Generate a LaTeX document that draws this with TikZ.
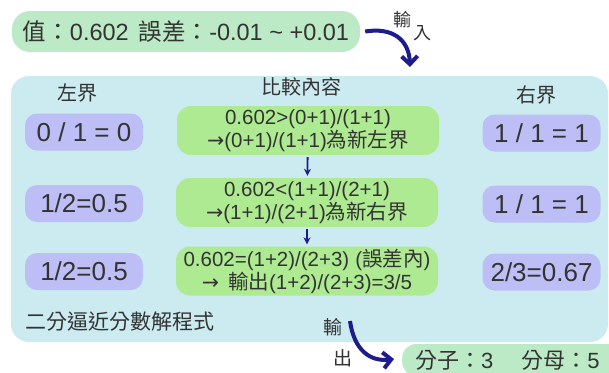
\documentclass[tikz,border=0pt]{standalone}
\usepackage{fontspec}
\setmainfont{Liberation Sans}
\newfontfamily\cjk{Noto Sans CJK TC}
\newfontfamily\symf{DejaVu Sans}
\usetikzlibrary{arrows.meta}
\newcommand\C[1]{{\cjk #1}}
\newcommand\ra{{\symf →}}
\definecolor{topgreen}{HTML}{BCEAC6}
\definecolor{midgreen}{HTML}{AEEA92}
\definecolor{lav}{HTML}{BEBEF6}
\definecolor{bgblue}{HTML}{CBEBF1}
\definecolor{txt}{HTML}{333333}
\definecolor{navy}{HTML}{1C1C8C}
\tikzset{
  every node/.style={text=txt, inner sep=0pt},
  panelbox/.style={fill=bgblue, rounded corners=18pt, minimum width=597pt, minimum height=266pt},
  valbox/.style={fill=topgreen, rounded corners=18pt, minimum width=348pt, minimum height=41pt, font=\fontsize{23.5}{27}\selectfont},
  outbox/.style={fill=topgreen, rounded corners=14pt, minimum width=240pt, minimum height=32pt, text width=214pt, inner xsep=13pt, align=left, font=\fontsize{22}{25}\selectfont},
  lbox/.style={fill=lav, rounded corners=12pt, minimum width=118pt, minimum height=37pt, font=\fontsize{26}{30}\selectfont},
  gbox/.style={fill=midgreen, rounded corners=14pt, minimum width=262pt, minimum height=49pt, align=center, font=\fontsize{20.5}{23}\selectfont},
  head/.style={font=\fontsize{20}{24}\selectfont\cjk},
  small/.style={font=\fontsize{19}{22}\selectfont\cjk},
  bigarrow/.style={navy, line width=4pt, -{Straight Barb[length=8pt,width=16pt]}},
  steparrow/.style={navy, line width=1.8pt, -{Stealth[length=7pt,width=7pt]}, shorten <=2pt, shorten >=2pt}
}
\begin{document}
\begin{tikzpicture}[x=1pt,y=-1pt]
\clip (0,0) rectangle (609,372);
\fill[white] (0,0) rectangle (609,372);

% panel
\node[panelbox] (panel) at (309.5,209) {};

% top value box
\node[valbox] (val) at (186,31.5) {\C{值：}0.602\hspace{10pt}\C{誤差：}-0.01 \textasciitilde{} +0.01};

% headers
\node[head] (hl) at (77,93) {左界};
\node[head] (hm) at (301,87) {比較內容};
\node[head] (hr) at (536,95) {右界};

% left bounds
\node[lbox] (l1) at (84,132) {0 / 1 = 0};
\node[lbox] (l2) at (84,203.5) {1/2=0.5};
\node[lbox] (l3) at (84,271.5) {1/2=0.5};

% right bounds
\node[lbox] (r1) at (541.5,133) {1 / 1 = 1};
\node[lbox] (r2) at (541.5,204) {1 / 1 = 1};
\node[lbox] (r3) at (541.5,272) {2/3=0.67};

% comparisons
\node[gbox] (g1) at (308,130.5) {0.602>(0+1)/(1+1)\\\ra(0+1)/(1+1)\C{為新左界}};
\node[gbox] (g2) at (307,202.5) {0.602<(1+1)/(2+1)\\\ra(1+1)/(2+1)\C{為新右界}};
\node[gbox] (g3) at (307,271) {0.602=(1+2)/(2+3)\hspace{6pt}(\C{誤差內})\\\ra\hspace{9pt}\C{輸出}(1+2)/(2+3)=3/5};

\draw[steparrow] (g1) -- (g2);
\draw[steparrow] (g2) -- (g3);

% panel title
\node[anchor=west, font=\fontsize{21}{25}\selectfont\cjk] (title) at (25,322) {二分逼近分數解程式};

% input arrow
\node[small, font=\fontsize{18}{22}\selectfont\cjk] (in1) at (402,20) {輸};
\node[small, font=\fontsize{18}{22}\selectfont\cjk] (in2) at (422,33) {入};
\coordinate (inS) at ([xshift=5pt]val.east);
\coordinate (inE) at (410,67);
\draw[bigarrow] (inS) .. controls (393,27) and (409,40) .. (inE);

% output
\node[outbox, anchor=west] (res) at (402,360) {\C{分子：}3\hspace{28pt}\C{分母：}5};
\node[small] (out1) at (333,327) {輸};
\node[small] (out2) at (343,358) {出};
\coordinate (outS) at (350,321);
\coordinate (outE) at ([xshift=-8pt,yshift=1pt]res.west);
\draw[bigarrow] (outS) .. controls (354,350) and (370,362) .. (outE);
\end{tikzpicture}
\end{document}
